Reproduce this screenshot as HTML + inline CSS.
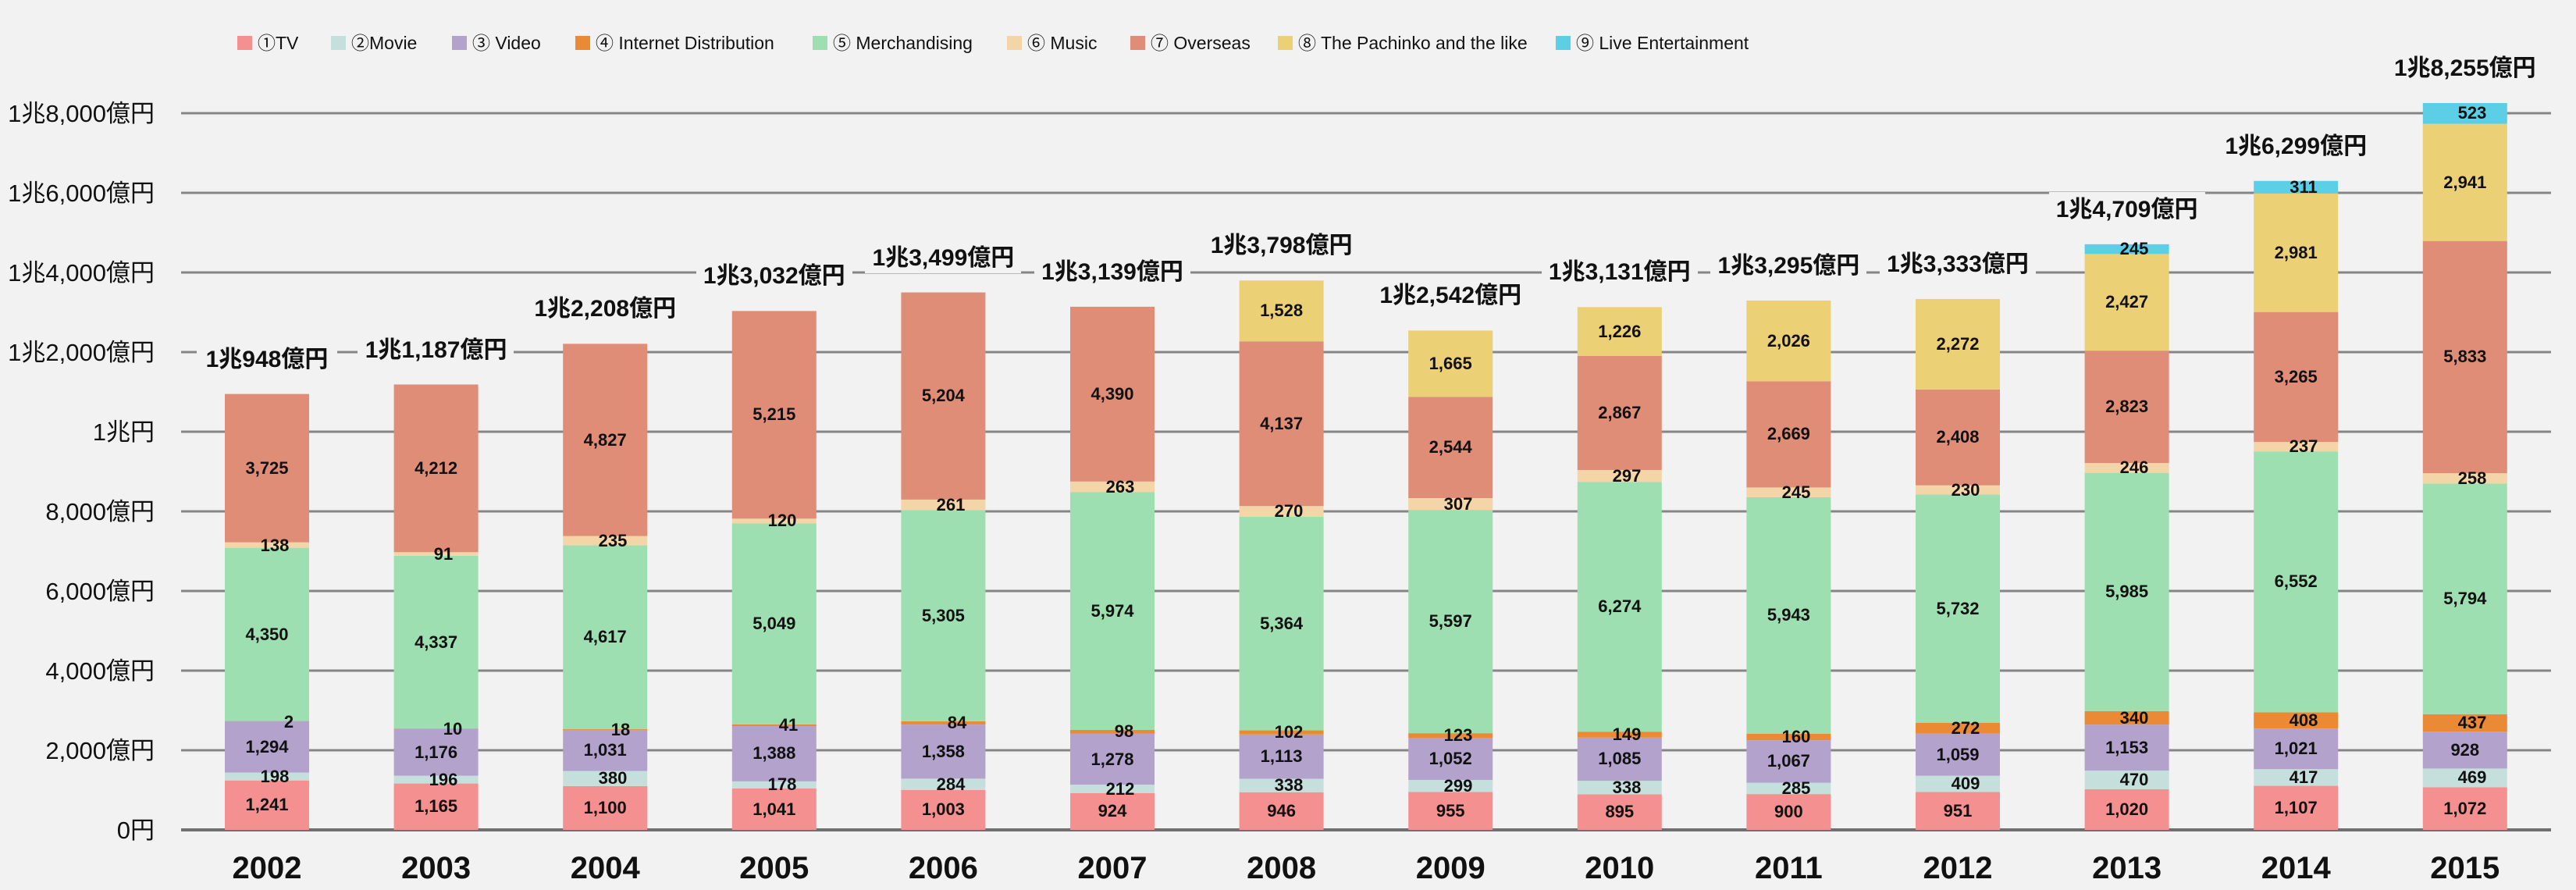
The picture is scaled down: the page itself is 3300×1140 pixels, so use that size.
<!DOCTYPE html>
<html><head><meta charset="utf-8"><style>
html,body{margin:0;padding:0;background:#f2f2f2;}
svg{display:block}
.tk{font-family:"Liberation Sans Narrow","Liberation Sans","Noto Sans CJK JP",sans-serif;font-size:31px;fill:#111;text-anchor:end}
.yr{font-family:"Liberation Sans Narrow","Liberation Sans",sans-serif;font-size:40px;font-weight:bold;fill:#111;text-anchor:middle}
.tot{font-family:"Liberation Sans Narrow","Liberation Sans","Noto Sans CJK JP",sans-serif;font-size:30px;font-weight:bold;fill:#111;text-anchor:middle}
.v{font-family:"Liberation Sans",Arial,sans-serif;font-size:22px;font-weight:bold;fill:#111;text-anchor:middle}
.lg{font-family:"Liberation Sans Narrow","Liberation Sans","Noto Sans CJK JP",sans-serif;font-size:23px;fill:#111}
</style></head><body>
<svg width="3300" height="1140" viewBox="0 0 3300 1140" xmlns="http://www.w3.org/2000/svg">
<rect width="3300" height="1140" fill="#f2f2f2"/>
<!-- legend -->
<g>
<rect x="304" y="46" width="19" height="18" fill="#f59090"/><text class="lg" x="330" y="63">①TV</text>
<rect x="424" y="46" width="19" height="18" fill="#c5e0dc"/><text class="lg" x="450" y="63">②Movie</text>
<rect x="579" y="46" width="19" height="18" fill="#b3a2cc"/><text class="lg" x="605" y="63">③ Video</text>
<rect x="737" y="46" width="19" height="18" fill="#ea8a35"/><text class="lg" x="763" y="63">④ Internet Distribution</text>
<rect x="1041" y="46" width="19" height="18" fill="#9ddfb0"/><text class="lg" x="1067" y="63">⑤ Merchandising</text>
<rect x="1290" y="46" width="19" height="18" fill="#f3d5a8"/><text class="lg" x="1316" y="63">⑥ Music</text>
<rect x="1448" y="46" width="19" height="18" fill="#e08d78"/><text class="lg" x="1474" y="63">⑦ Overseas</text>
<rect x="1637" y="46" width="19" height="18" fill="#ecd075"/><text class="lg" x="1663" y="63">⑧ The Pachinko and the like</text>
<rect x="1993" y="46" width="19" height="18" fill="#5ccfe6"/><text class="lg" x="2019" y="63">⑨ Live Entertainment</text>
</g>
<!-- grid -->
<g stroke="#858585" stroke-width="3">
<line x1="232" x2="3268" y1="1063" y2="1063" stroke="#6f6f6f" stroke-width="4"/>
<line x1="232" x2="3268" y1="961" y2="961"/>
<line x1="232" x2="3268" y1="859" y2="859"/>
<line x1="232" x2="3268" y1="757" y2="757"/>
<line x1="232" x2="3268" y1="655" y2="655"/>
<line x1="232" x2="3268" y1="553" y2="553"/>
<line x1="232" x2="3268" y1="451" y2="451"/>
<line x1="232" x2="3268" y1="349" y2="349"/>
<line x1="232" x2="3268" y1="247" y2="247"/>
<line x1="232" x2="3268" y1="145" y2="145"/>
</g>
<g>
<text class="tk" x="198" y="1074">0円</text>
<text class="tk" x="198" y="972">2,000億円</text>
<text class="tk" x="198" y="870">4,000億円</text>
<text class="tk" x="198" y="768">6,000億円</text>
<text class="tk" x="198" y="666">8,000億円</text>
<text class="tk" x="198" y="564">1兆円</text>
<text class="tk" x="198" y="462">1兆2,000億円</text>
<text class="tk" x="198" y="360">1兆4,000億円</text>
<text class="tk" x="198" y="258">1兆6,000億円</text>
<text class="tk" x="198" y="156">1兆8,000億円</text>
</g>
<!-- bars -->
<g transform="translate(0,1063) scale(1,-0.051)">
<!-- 2002 -->
<g transform="translate(288,0)">
<rect y="0" width="108" height="1241" fill="#f59090"/><rect y="1241" width="108" height="198" fill="#c5e0dc"/><rect y="1439" width="108" height="1294" fill="#b3a2cc"/><rect y="2733" width="108" height="2" fill="#ea8a35"/><rect y="2735" width="108" height="4350" fill="#9ddfb0"/><rect y="7085" width="108" height="138" fill="#f3d5a8"/><rect y="7223" width="108" height="3725" fill="#e08d78"/></g>
<!-- 2003 -->
<g transform="translate(504.6,0)">
<rect y="0" width="108" height="1165" fill="#f59090"/><rect y="1165" width="108" height="196" fill="#c5e0dc"/><rect y="1361" width="108" height="1176" fill="#b3a2cc"/><rect y="2537" width="108" height="10" fill="#ea8a35"/><rect y="2547" width="108" height="4337" fill="#9ddfb0"/><rect y="6884" width="108" height="91" fill="#f3d5a8"/><rect y="6975" width="108" height="4212" fill="#e08d78"/></g>
<!-- 2004 -->
<g transform="translate(721.2,0)">
<rect y="0" width="108" height="1100" fill="#f59090"/><rect y="1100" width="108" height="380" fill="#c5e0dc"/><rect y="1480" width="108" height="1031" fill="#b3a2cc"/><rect y="2511" width="108" height="18" fill="#ea8a35"/><rect y="2529" width="108" height="4617" fill="#9ddfb0"/><rect y="7146" width="108" height="235" fill="#f3d5a8"/><rect y="7381" width="108" height="4827" fill="#e08d78"/></g>
<!-- 2005 -->
<g transform="translate(937.8,0)">
<rect y="0" width="108" height="1041" fill="#f59090"/><rect y="1041" width="108" height="178" fill="#c5e0dc"/><rect y="1219" width="108" height="1388" fill="#b3a2cc"/><rect y="2607" width="108" height="41" fill="#ea8a35"/><rect y="2648" width="108" height="5049" fill="#9ddfb0"/><rect y="7697" width="108" height="120" fill="#f3d5a8"/><rect y="7817" width="108" height="5215" fill="#e08d78"/></g>
<!-- 2006 -->
<g transform="translate(1154.4,0)">
<rect y="0" width="108" height="1003" fill="#f59090"/><rect y="1003" width="108" height="284" fill="#c5e0dc"/><rect y="1287" width="108" height="1358" fill="#b3a2cc"/><rect y="2645" width="108" height="84" fill="#ea8a35"/><rect y="2729" width="108" height="5305" fill="#9ddfb0"/><rect y="8034" width="108" height="261" fill="#f3d5a8"/><rect y="8295" width="108" height="5204" fill="#e08d78"/></g>
<!-- 2007 -->
<g transform="translate(1371,0)">
<rect y="0" width="108" height="924" fill="#f59090"/><rect y="924" width="108" height="212" fill="#c5e0dc"/><rect y="1136" width="108" height="1278" fill="#b3a2cc"/><rect y="2414" width="108" height="98" fill="#ea8a35"/><rect y="2512" width="108" height="5974" fill="#9ddfb0"/><rect y="8486" width="108" height="263" fill="#f3d5a8"/><rect y="8749" width="108" height="4390" fill="#e08d78"/></g>
<!-- 2008 -->
<g transform="translate(1587.6,0)">
<rect y="0" width="108" height="946" fill="#f59090"/><rect y="946" width="108" height="338" fill="#c5e0dc"/><rect y="1284" width="108" height="1113" fill="#b3a2cc"/><rect y="2397" width="108" height="102" fill="#ea8a35"/><rect y="2499" width="108" height="5364" fill="#9ddfb0"/><rect y="7863" width="108" height="270" fill="#f3d5a8"/><rect y="8133" width="108" height="4137" fill="#e08d78"/><rect y="12270" width="108" height="1528" fill="#ecd075"/></g>
<!-- 2009 -->
<g transform="translate(1804.2,0)">
<rect y="0" width="108" height="955" fill="#f59090"/><rect y="955" width="108" height="299" fill="#c5e0dc"/><rect y="1254" width="108" height="1052" fill="#b3a2cc"/><rect y="2306" width="108" height="123" fill="#ea8a35"/><rect y="2429" width="108" height="5597" fill="#9ddfb0"/><rect y="8026" width="108" height="307" fill="#f3d5a8"/><rect y="8333" width="108" height="2544" fill="#e08d78"/><rect y="10877" width="108" height="1665" fill="#ecd075"/></g>
<!-- 2010 -->
<g transform="translate(2020.8,0)">
<rect y="0" width="108" height="895" fill="#f59090"/><rect y="895" width="108" height="338" fill="#c5e0dc"/><rect y="1233" width="108" height="1085" fill="#b3a2cc"/><rect y="2318" width="108" height="149" fill="#ea8a35"/><rect y="2467" width="108" height="6274" fill="#9ddfb0"/><rect y="8741" width="108" height="297" fill="#f3d5a8"/><rect y="9038" width="108" height="2867" fill="#e08d78"/><rect y="11905" width="108" height="1226" fill="#ecd075"/></g>
<!-- 2011 -->
<g transform="translate(2237.4,0)">
<rect y="0" width="108" height="900" fill="#f59090"/><rect y="900" width="108" height="285" fill="#c5e0dc"/><rect y="1185" width="108" height="1067" fill="#b3a2cc"/><rect y="2252" width="108" height="160" fill="#ea8a35"/><rect y="2412" width="108" height="5943" fill="#9ddfb0"/><rect y="8355" width="108" height="245" fill="#f3d5a8"/><rect y="8600" width="108" height="2669" fill="#e08d78"/><rect y="11269" width="108" height="2026" fill="#ecd075"/></g>
<!-- 2012 -->
<g transform="translate(2454,0)">
<rect y="0" width="108" height="951" fill="#f59090"/><rect y="951" width="108" height="409" fill="#c5e0dc"/><rect y="1360" width="108" height="1059" fill="#b3a2cc"/><rect y="2419" width="108" height="272" fill="#ea8a35"/><rect y="2691" width="108" height="5732" fill="#9ddfb0"/><rect y="8423" width="108" height="230" fill="#f3d5a8"/><rect y="8653" width="108" height="2408" fill="#e08d78"/><rect y="11061" width="108" height="2272" fill="#ecd075"/></g>
<!-- 2013 -->
<g transform="translate(2670.6,0)">
<rect y="0" width="108" height="1020" fill="#f59090"/><rect y="1020" width="108" height="470" fill="#c5e0dc"/><rect y="1490" width="108" height="1153" fill="#b3a2cc"/><rect y="2643" width="108" height="340" fill="#ea8a35"/><rect y="2983" width="108" height="5985" fill="#9ddfb0"/><rect y="8968" width="108" height="246" fill="#f3d5a8"/><rect y="9214" width="108" height="2823" fill="#e08d78"/><rect y="12037" width="108" height="2427" fill="#ecd075"/><rect y="14464" width="108" height="245" fill="#5ccfe6"/></g>
<!-- 2014 -->
<g transform="translate(2887.2,0)">
<rect y="0" width="108" height="1107" fill="#f59090"/><rect y="1107" width="108" height="417" fill="#c5e0dc"/><rect y="1524" width="108" height="1021" fill="#b3a2cc"/><rect y="2545" width="108" height="408" fill="#ea8a35"/><rect y="2953" width="108" height="6552" fill="#9ddfb0"/><rect y="9505" width="108" height="237" fill="#f3d5a8"/><rect y="9742" width="108" height="3265" fill="#e08d78"/><rect y="13007" width="108" height="2981" fill="#ecd075"/><rect y="15988" width="108" height="311" fill="#5ccfe6"/></g>
<!-- 2015 -->
<g transform="translate(3103.8,0)">
<rect y="0" width="108" height="1072" fill="#f59090"/><rect y="1072" width="108" height="469" fill="#c5e0dc"/><rect y="1541" width="108" height="928" fill="#b3a2cc"/><rect y="2469" width="108" height="437" fill="#ea8a35"/><rect y="2906" width="108" height="5794" fill="#9ddfb0"/><rect y="8700" width="108" height="258" fill="#f3d5a8"/><rect y="8958" width="108" height="5833" fill="#e08d78"/><rect y="14791" width="108" height="2941" fill="#ecd075"/><rect y="17732" width="108" height="523" fill="#5ccfe6"/></g>
</g>
<!-- value labels -->
<g>
<text class="v" x="342" y="1038">1,241</text><text class="v" x="352" y="1002">198</text><text class="v" x="342" y="964">1,294</text><text class="v" x="370" y="932">2</text><text class="v" x="342" y="820">4,350</text><text class="v" x="352" y="706">138</text><text class="v" x="342" y="607">3,725</text>
<text class="v" x="558.6" y="1040">1,165</text><text class="v" x="568" y="1006">196</text><text class="v" x="558.6" y="971">1,176</text><text class="v" x="580" y="941">10</text><text class="v" x="558.6" y="830">4,337</text><text class="v" x="568" y="717">91</text><text class="v" x="558.6" y="607">4,212</text>
<text class="v" x="775.2" y="1042">1,100</text><text class="v" x="785" y="1004">380</text><text class="v" x="775.2" y="968">1,031</text><text class="v" x="795" y="942">18</text><text class="v" x="775.2" y="823">4,617</text><text class="v" x="785" y="700">235</text><text class="v" x="775.2" y="571">4,827</text>
<text class="v" x="991.8" y="1044">1,041</text><text class="v" x="1002" y="1012">178</text><text class="v" x="991.8" y="972">1,388</text><text class="v" x="1010" y="936">41</text><text class="v" x="991.8" y="806">5,049</text><text class="v" x="1002" y="674">120</text><text class="v" x="991.8" y="538">5,215</text>
<text class="v" x="1208.4" y="1044">1,003</text><text class="v" x="1218" y="1012">284</text><text class="v" x="1208.4" y="970">1,358</text><text class="v" x="1226" y="933">84</text><text class="v" x="1208.4" y="796">5,305</text><text class="v" x="1218" y="654">261</text><text class="v" x="1208.4" y="514">5,204</text>
<text class="v" x="1425" y="1046">924</text><text class="v" x="1435" y="1018">212</text><text class="v" x="1425" y="980">1,278</text><text class="v" x="1440" y="944">98</text><text class="v" x="1425" y="790">5,974</text><text class="v" x="1435" y="631">263</text><text class="v" x="1425" y="512">4,390</text>
<text class="v" x="1641.6" y="1046">946</text><text class="v" x="1651" y="1013">338</text><text class="v" x="1641.6" y="976">1,113</text><text class="v" x="1651" y="945">102</text><text class="v" x="1641.6" y="806">5,364</text><text class="v" x="1651" y="662">270</text><text class="v" x="1641.6" y="550">4,137</text><text class="v" x="1641.6" y="405">1,528</text>
<text class="v" x="1858.2" y="1046">955</text><text class="v" x="1868" y="1014">299</text><text class="v" x="1858.2" y="979">1,052</text><text class="v" x="1868" y="949">123</text><text class="v" x="1858.2" y="803">5,597</text><text class="v" x="1868" y="653">307</text><text class="v" x="1858.2" y="580">2,544</text><text class="v" x="1858.2" y="473">1,665</text>
<text class="v" x="2074.8" y="1047">895</text><text class="v" x="2084" y="1016">338</text><text class="v" x="2074.8" y="979">1,085</text><text class="v" x="2084" y="948">149</text><text class="v" x="2074.8" y="784">6,274</text><text class="v" x="2084" y="617">297</text><text class="v" x="2074.8" y="536">2,867</text><text class="v" x="2074.8" y="432">1,226</text>
<text class="v" x="2291.4" y="1047">900</text><text class="v" x="2301" y="1017">285</text><text class="v" x="2291.4" y="982">1,067</text><text class="v" x="2301" y="951">160</text><text class="v" x="2291.4" y="795">5,943</text><text class="v" x="2301" y="638">245</text><text class="v" x="2291.4" y="563">2,669</text><text class="v" x="2291.4" y="444">2,026</text>
<text class="v" x="2508" y="1046">951</text><text class="v" x="2518" y="1011">409</text><text class="v" x="2508" y="974">1,059</text><text class="v" x="2518" y="940">272</text><text class="v" x="2508" y="787">5,732</text><text class="v" x="2518" y="635">230</text><text class="v" x="2508" y="567">2,408</text><text class="v" x="2508" y="448">2,272</text>
<text class="v" x="2724.6" y="1044">1,020</text><text class="v" x="2734" y="1006">470</text><text class="v" x="2724.6" y="965">1,153</text><text class="v" x="2734" y="927">340</text><text class="v" x="2724.6" y="765">5,985</text><text class="v" x="2734" y="606">246</text><text class="v" x="2724.6" y="528">2,823</text><text class="v" x="2724.6" y="394">2,427</text><text class="v" x="2734" y="326">245</text>
<text class="v" x="2941.2" y="1042">1,107</text><text class="v" x="2951" y="1003">417</text><text class="v" x="2941.2" y="966">1,021</text><text class="v" x="2951" y="930">408</text><text class="v" x="2941.2" y="752">6,552</text><text class="v" x="2951" y="579">237</text><text class="v" x="2941.2" y="490">3,265</text><text class="v" x="2941.2" y="331">2,981</text><text class="v" x="2951" y="247">311</text>
<text class="v" x="3157.8" y="1043">1,072</text><text class="v" x="3167" y="1003">469</text><text class="v" x="3157.8" y="968">928</text><text class="v" x="3167" y="933">437</text><text class="v" x="3157.8" y="774">5,794</text><text class="v" x="3167" y="620">258</text><text class="v" x="3157.8" y="464">5,833</text><text class="v" x="3157.8" y="241">2,941</text><text class="v" x="3167" y="152">523</text>
</g>
<!-- totals -->
<g fill="#f2f2f2">
<rect x="252" y="437" width="180" height="42"/><rect x="458" y="425" width="200" height="42"/><rect x="675" y="373" width="200" height="42"/><rect x="892" y="331" width="200" height="42"/><rect x="1108" y="308" width="200" height="42"/><rect x="1325" y="326" width="200" height="42"/><rect x="1541" y="292" width="200" height="42"/><rect x="1758" y="356" width="200" height="42"/><rect x="1975" y="326" width="200" height="42"/><rect x="2191" y="318" width="200" height="42"/><rect x="2408" y="316" width="200" height="42"/><rect x="2625" y="246" width="200" height="42"/><rect x="2841" y="165" width="200" height="42"/><rect x="3058" y="65" width="200" height="42"/>
</g>
<g>
<text class="tot" x="342" y="470">1兆948億円</text>
<text class="tot" x="558.6" y="458">1兆1,187億円</text>
<text class="tot" x="775.2" y="405">1兆2,208億円</text>
<text class="tot" x="991.8" y="363">1兆3,032億円</text>
<text class="tot" x="1208.4" y="340">1兆3,499億円</text>
<text class="tot" x="1425" y="358">1兆3,139億円</text>
<text class="tot" x="1641.6" y="324">1兆3,798億円</text>
<text class="tot" x="1858.2" y="388">1兆2,542億円</text>
<text class="tot" x="2074.8" y="358">1兆3,131億円</text>
<text class="tot" x="2291.4" y="350">1兆3,295億円</text>
<text class="tot" x="2508" y="348">1兆3,333億円</text>
<text class="tot" x="2724.6" y="278">1兆4,709億円</text>
<text class="tot" x="2941.2" y="197">1兆6,299億円</text>
<text class="tot" x="3157.8" y="97">1兆8,255億円</text>
</g>
<!-- years -->
<g>
<text class="yr" x="342" y="1125">2002</text><text class="yr" x="558.6" y="1125">2003</text><text class="yr" x="775.2" y="1125">2004</text><text class="yr" x="991.8" y="1125">2005</text><text class="yr" x="1208.4" y="1125">2006</text><text class="yr" x="1425" y="1125">2007</text><text class="yr" x="1641.6" y="1125">2008</text><text class="yr" x="1858.2" y="1125">2009</text><text class="yr" x="2074.8" y="1125">2010</text><text class="yr" x="2291.4" y="1125">2011</text><text class="yr" x="2508" y="1125">2012</text><text class="yr" x="2724.6" y="1125">2013</text><text class="yr" x="2941.2" y="1125">2014</text><text class="yr" x="3157.8" y="1125">2015</text>
</g>
</svg>
</body></html>
